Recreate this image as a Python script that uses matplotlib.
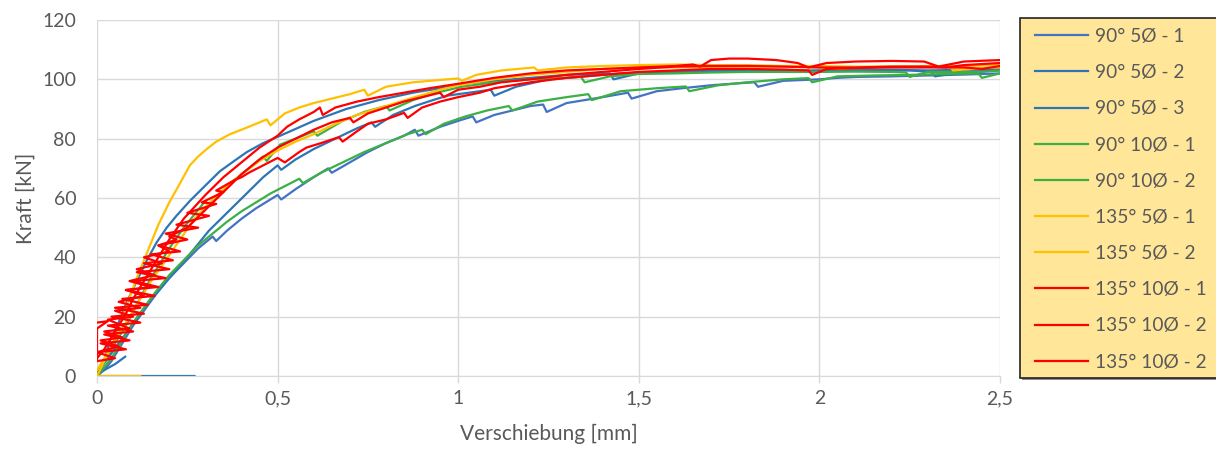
import numpy as np
import matplotlib
matplotlib.use("Agg")
import matplotlib.pyplot as plt
from matplotlib.patches import Rectangle

nan = np.nan

# Messreihen: (Verschiebung [mm], Kraft [kN])
pts_90_5_1 = [(0, 0), (0.02, 2), (0.04, 5), (0.06, 9), (0.08, 13), (0.10, 17), (0.13, 22), (0.16, 27),
              (0.20, 33), (0.24, 38), (0.28, 43), (0.32, 47), (0.33, 45.5), (0.36, 49), (0.40, 53),
              (0.44, 56.5), (0.48, 59.5), (0.50, 61), (0.51, 59.5), (0.55, 63), (0.60, 67), (0.64, 70),
              (0.65, 68.5), (0.70, 72), (0.75, 75.5), (0.80, 78.5), (0.85, 81), (0.88, 83), (0.89, 81),
              (0.95, 84), (1.00, 86), (1.04, 87.5), (1.05, 85.5), (1.10, 88), (1.15, 89.5), (1.20, 91),
              (1.235, 91.5), (1.245, 89), (1.30, 92), (1.40, 94), (1.47, 95.5), (1.48, 93.5), (1.55, 96),
              (1.62, 97), (1.70, 98), (1.78, 98.7), (1.82, 99), (1.83, 97.5), (1.90, 99.5), (2.00, 100),
              (2.05, 100.5), (2.10, 100.8), (2.20, 101), (2.30, 101.3), (2.40, 101.6), (2.50, 102)]

pts_90_5_2 = [(0, 0), (0.27, 0), (nan, nan), (0.02, 2), (0.05, 4), (0.078, 6.5), (nan, nan),
              (0.0, 1), (0.03, 6), (0.06, 11), (0.09, 16), (0.12, 21), (0.15, 26), (0.20, 33),
              (0.25, 40), (0.31, 49), (0.36, 55), (0.41, 61), (0.46, 67), (0.50, 71), (0.51, 69.5),
              (0.55, 73), (0.60, 76.5), (0.66, 80), (0.72, 83.5), (0.76, 85.5), (0.77, 84), (0.82, 88),
              (0.88, 91), (0.93, 93), (0.97, 94.5), (1.03, 95.5), (1.09, 96.5), (1.10, 94.5),
              (1.16, 97.5), (1.25, 100), (1.35, 101), (1.45, 102), (1.55, 102.5), (1.65, 102.5),
              (1.75, 102.8), (1.85, 103), (1.95, 102.8), (2.05, 103), (2.15, 103), (2.25, 103),
              (2.31, 102.5), (2.32, 101), (2.40, 102.5), (2.50, 103)]

pts_90_5_3 = [(0, 0), (0.02, 5), (0.036, 12), (0.06, 18), (0.083, 25), (0.11, 32), (0.138, 39),
              (0.165, 45), (0.193, 50), (0.22, 54), (0.257, 59), (0.29, 63), (0.34, 69), (0.38, 72.5),
              (0.415, 75.5), (0.46, 78.5), (0.526, 82), (0.60, 86), (0.69, 90), (0.78, 93),
              (0.875, 95.5), (0.95, 97), (1.02, 98.5), (1.10, 99.5), (1.20, 100.5), (1.30, 101.5),
              (1.42, 102), (1.43, 100), (1.50, 102), (1.60, 102.5), (1.70, 103), (1.80, 103),
              (1.90, 102.8), (2.00, 103), (2.10, 103), (2.20, 103.2), (2.30, 103), (2.40, 103.2),
              (2.50, 103.5)]

pts_90_10_1 = [(0, 0), (0.02, 3), (0.04, 6), (0.06, 10), (0.08, 14), (0.10, 18), (0.13, 23), (0.16, 28),
               (0.20, 34), (0.24, 39), (0.28, 44), (0.32, 48), (0.36, 52), (0.40, 55.5), (0.44, 58.5),
               (0.48, 61.5), (0.52, 64), (0.56, 66.5), (0.57, 65), (0.62, 68.5), (0.68, 72),
               (0.74, 75.5), (0.80, 78.5), (0.86, 81.5), (0.90, 83), (0.91, 81.5), (0.96, 85),
               (1.02, 87.5), (1.08, 89.5), (1.14, 91), (1.15, 89.5), (1.22, 92.5), (1.30, 94),
               (1.36, 95), (1.37, 93), (1.45, 96), (1.55, 97), (1.63, 97.6), (1.64, 96), (1.72, 98),
               (1.80, 99), (1.90, 100), (1.97, 100.4), (1.98, 99), (2.05, 101), (2.15, 101.3),
               (2.25, 101.5), (2.35, 101.8), (2.44, 102), (2.45, 100.5), (2.50, 102)]

pts_90_10_2 = [(0, 0), (0.02, 5), (0.05, 11), (0.08, 17), (0.11, 24), (0.14, 31), (0.17, 37), (0.20, 43),
               (0.24, 50), (0.28, 56), (0.30, 59), (0.31, 57.5), (0.36, 64), (0.42, 70), (0.46, 74),
               (0.47, 72.5), (0.507, 78), (0.56, 80.5), (0.60, 82.5), (0.61, 81), (0.68, 86),
               (0.74, 89), (0.80, 91), (0.81, 89.5), (0.875, 93), (0.94, 95.5), (1.01, 97.5),
               (1.10, 99), (1.20, 100), (1.30, 100.5), (1.34, 100.8), (1.35, 99), (1.42, 101),
               (1.50, 101.8), (1.60, 102), (1.70, 102.3), (1.80, 102.5), (1.90, 102.5), (2.00, 102.5),
               (2.10, 102.6), (2.20, 102.5), (2.24, 102.3), (2.25, 100.8), (2.30, 102.5),
               (2.37, 102.5), (2.45, 102.5), (2.50, 103)]

pts_135_5_1 = [(0, 0), (0.02, 5), (0.04, 10), (0.06, 16), (0.08, 23), (0.11, 33), (0.14, 42), (0.17, 51),
               (0.20, 58.5), (0.23, 65), (0.257, 71), (0.28, 74), (0.304, 76.5), (0.33, 79),
               (0.368, 81.5), (0.41, 83.5), (0.45, 85.5), (0.47, 86.5), (0.48, 84.5), (0.52, 88.5),
               (0.56, 90.5), (0.60, 92), (0.65, 93.5), (0.70, 95), (0.74, 96.5), (0.75, 94.5),
               (0.80, 97.5), (0.875, 99), (0.97, 100), (1.00, 100.3), (1.01, 99.5), (1.05, 101.5),
               (1.12, 103), (1.21, 104), (1.22, 103), (1.30, 104), (1.40, 104.5), (1.50, 104.8),
               (1.60, 105), (1.70, 104.8), (1.80, 104.8), (1.90, 104.5), (2.00, 104.5), (2.10, 104.3),
               (2.20, 104.3), (2.30, 104.3), (2.36, 104.5), (2.37, 103), (2.45, 103.8), (2.50, 104)]

pts_135_5_2 = [(0, 0), (0.12, 0), (nan, nan),
               (0, 2), (0.02, 6), (0.04, 10), (0.06, 14), (0.09, 20), (0.12, 26), (0.15, 32),
               (0.19, 39), (0.23, 46), (0.27, 53), (0.30, 57), (0.35, 63), (0.40, 68), (0.45, 72.5),
               (0.50, 76), (0.55, 79), (0.60, 81.5), (0.66, 85), (0.72, 88), (0.80, 91), (0.88, 94),
               (0.95, 96.5), (1.00, 98), (1.10, 100), (1.20, 101.5), (1.30, 102.5), (1.40, 103.5),
               (1.50, 104), (1.60, 104), (1.70, 104.2), (1.80, 104.3), (1.90, 104.3), (2.00, 104),
               (2.05, 103.5), (2.10, 104), (2.20, 104.3), (2.30, 104.5), (2.40, 104.5), (2.50, 104.8)]

pts_135_10_1 = [(0, 6), (0.02, 9), (0.04, 13), (0.06, 17), (0.08, 21), (0.10, 26), (0.13, 32),
                (0.16, 38), (0.20, 46), (0.24, 53), (0.30, 61), (0.35, 67), (0.40, 72), (0.45, 77),
                (0.50, 81), (0.526, 84), (0.56, 86.5), (0.60, 89), (0.617, 90.5), (0.625, 88),
                (0.66, 90.5), (0.72, 92.5), (0.78, 94), (0.85, 95.5), (0.92, 97), (1.00, 98.5),
                (1.10, 100.5), (1.20, 102), (1.30, 103), (1.40, 103.5), (1.50, 104), (1.60, 104.5),
                (1.65, 105), (1.67, 104.3), (1.70, 106.5), (1.75, 107), (1.80, 107), (1.88, 106.5),
                (1.94, 105.5), (1.97, 104), (2.02, 105.5), (2.10, 106), (2.20, 106.2), (2.29, 106),
                (2.33, 104.3), (2.40, 106), (2.50, 106.5)]

pts_135_10_2a = [(0.0, 8), (0.08, 9), (0.01, 11), (0.09, 12), (0.02, 14), (0.10, 15), (0.03, 17),
                 (0.12, 18), (0.04, 20), (0.13, 21), (0.05, 23), (0.14, 24), (0.07, 26), (0.16, 27),
                 (0.08, 29), (0.17, 30), (0.10, 32), (0.19, 33), (0.11, 35), (0.20, 36), (0.13, 38),
                 (0.21, 39), (0.15, 41), (0.23, 42), (0.17, 44), (0.25, 46), (0.19, 48), (0.28, 50),
                 (0.22, 51), (0.31, 54), (0.25, 55), (0.33, 58), (0.29, 58.5), (0.35, 62), (0.33, 62.5),
                 (0.38, 66), (0.40, 67), (0.42, 68.5), (0.46, 71), (0.50, 73.5), (0.52, 72),
                 (0.56, 75.5), (0.58, 77), (0.62, 78.5), (0.67, 80.5), (0.68, 79), (0.72, 82.5),
                 (0.75, 85), (0.80, 86.5), (0.85, 88.7), (0.86, 87), (0.90, 90.5), (0.95, 92.5),
                 (1.00, 94), (1.06, 95.5), (1.10, 97), (1.15, 98), (1.20, 99), (1.30, 100.5),
                 (1.40, 101.5), (1.50, 102.5), (1.60, 103), (1.70, 103.5), (1.80, 103.5), (1.90, 103.3),
                 (1.97, 103), (1.98, 101.5), (2.02, 103.5), (2.10, 103.8), (2.20, 104), (2.30, 104),
                 (2.40, 104), (2.45, 103.5), (2.50, 104.5)]

pts_135_10_2b = [(0, 18), (0.03, 18.5), (0.0, 16), (0.0, 5), (0.05, 6), (0.0, 8), (0.06, 10),
                 (0.01, 12), (0.07, 13), (0.02, 15), (0.09, 16), (0.03, 19), (0.10, 20), (0.05, 22),
                 (0.12, 23), (0.06, 25), (0.13, 27), (0.08, 29), (0.15, 30), (0.09, 32), (0.16, 34),
                 (0.11, 36), (0.18, 38), (0.13, 40), (0.20, 42), (0.17, 44), (0.22, 46), (0.20, 47),
                 (0.25, 50), (0.30, 56), (0.35, 62), (0.40, 68), (0.45, 73), (0.50, 77), (0.55, 80),
                 (0.60, 83), (0.65, 85.5), (0.70, 87), (0.71, 85.5), (0.75, 88.5), (0.80, 90.5),
                 (0.85, 92.5), (0.90, 94), (0.95, 95.5), (0.96, 94), (1.00, 96.5), (1.06, 97.5),
                 (1.12, 99), (1.20, 100), (1.30, 101.5), (1.40, 102.5), (1.50, 103.5), (1.60, 104.3),
                 (1.70, 104.5), (1.80, 104.5), (1.90, 104.3), (2.00, 104), (2.10, 104), (2.20, 104.3),
                 (2.30, 104.3), (2.35, 104), (2.40, 104.8), (2.50, 105.5)]

labels = ["90° 5Ø - 1", "90° 5Ø - 2", "90° 5Ø - 3", "90° 10Ø - 1", "90° 10Ø - 2",
          "135° 5Ø - 1", "135° 5Ø - 2", "135° 10Ø - 1", "135° 10Ø - 2", "135° 10Ø - 2"]
series = [pts_90_5_1, pts_90_5_2, pts_90_5_3, pts_90_10_1, pts_90_10_2,
          pts_135_5_1, pts_135_5_2, pts_135_10_1, pts_135_10_2a, pts_135_10_2b]
colors = ["#4472C4", "#2E75B6", "#2E75B6", "#3CAF45", "#3CAF45",
          "#FFC000", "#FFC000", "#FF0000", "#FF0000", "#FF0000"]

x_ticks = [0, 0.5, 1, 1.5, 2, 2.5]
x_ticklabels = ["0", "0,5", "1", "1,5", "2", "2,5"]
y_ticks = [0, 20, 40, 60, 80, 100, 120]

plt.rcParams['font.family'] = ['Lato', 'DejaVu Sans']
txt = "#595959"
grid = "#D9D9D9"

W, H = 1216, 450
fig = plt.figure(figsize=(W / 100, H / 100), dpi=100)
ax = fig.add_axes([97 / W, 1 - 376 / H, (1000 - 97) / W, (376 - 20) / H])

handles = []
for pts, c, lab in zip(series, colors, labels):
    xs = [p[0] for p in pts]
    ys = [p[1] for p in pts]
    h, = ax.plot(xs, ys, color=c, lw=1.6, label=lab, solid_joinstyle='round')
    handles.append(h)

ax.set_xlim(0, 2.5)
ax.set_ylim(0, 120)
ax.set_xticks(x_ticks)
ax.set_xticklabels(x_ticklabels)
ax.set_yticks(y_ticks)
ax.grid(True, color=grid, lw=1)
ax.set_axisbelow(True)
for s in ['top', 'right', 'left']:
    ax.spines[s].set_visible(False)
ax.spines['bottom'].set_color(grid)
ax.tick_params(axis='x', colors=grid, length=5, width=1, labelcolor=txt, labelsize=14, pad=5)
ax.tick_params(axis='y', length=0, labelcolor=txt, labelsize=14, pad=15)
ax.set_xlabel("Verschiebung [mm]", color=txt, fontsize=15, labelpad=12)
ax.set_ylabel("Kraft [kN]", color=txt, fontsize=15, labelpad=5)

# Legendenkasten
fig.patches.append(Rectangle((1022 / W, 1 - 380 / H), 0.2, 360 / H, transform=fig.transFigure,
                             fc="#8C8C8C", ec="none", zorder=0))
fig.patches.append(Rectangle((1020 / W, 1 - 378 / H), 0.2, 360 / H, transform=fig.transFigure,
                             fc="#FFE699", ec="#222222", lw=1.2, zorder=1))
leg = fig.legend(handles, labels, loc='upper left', bbox_to_anchor=(1035 / W, 1 - 28 / H),
                 frameon=False, fontsize=13.8, labelspacing=1.0, handlelength=2.75,
                 handletextpad=0.36, borderaxespad=0, borderpad=0)
for t in leg.get_texts():
    t.set_color(txt)

fig.savefig("out.png", dpi=100)
